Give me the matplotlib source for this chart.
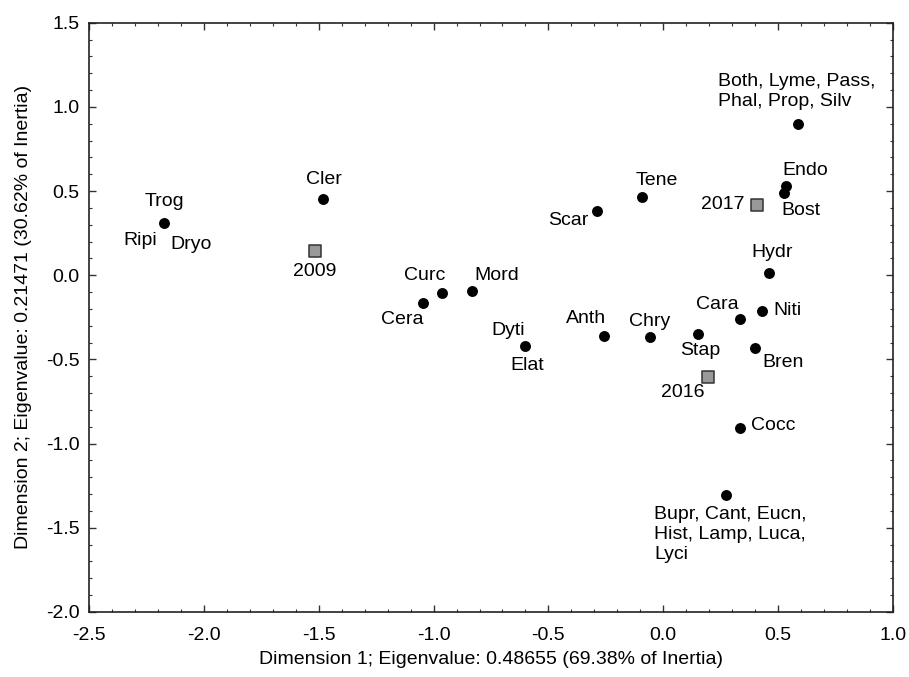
import matplotlib
matplotlib.use("Agg")
import matplotlib.pyplot as plt
from matplotlib.ticker import MultipleLocator, FormatStrFormatter

plt.rcParams['font.family'] = ['Liberation Sans', 'DejaVu Sans']

# Column points (taxa)
taxa_labels = ["Trog", "Cler", "Cera", "Curc", "Mord", "Elat", "Scar", "Tene", "Anth", "Chry",
               "Stap", "Cara", "Niti", "Bren", "Hydr", "Endo", "Bost", "Both", "Cocc", "Bupr"]
taxa_x = [-2.172, -1.483, -1.047, -0.962, -0.834, -0.602, -0.290, -0.091, -0.259, -0.059,
          0.153, 0.335, 0.431, 0.401, 0.460, 0.534, 0.527, 0.588, 0.334, 0.273]
taxa_y = [0.312, 0.451, -0.167, -0.108, -0.094, -0.421, 0.383, 0.463, -0.360, -0.364,
          -0.351, -0.262, -0.211, -0.431, 0.011, 0.530, 0.490, 0.896, -0.910, -1.305]

# Row points (years)
years = ["2009", "2016", "2017"]
years_x = [-1.516, 0.193, 0.407]
years_y = [0.145, -0.607, 0.419]

xlabel = "Dimension 1; Eigenvalue: 0.48655 (69.38% of Inertia)"
ylabel = "Dimension 2; Eigenvalue: 0.21471 (30.62% of Inertia)"

# label placements: (text, anchor-key, dx px, dy px (down positive), ha, va)
label_specs = [
    ("Trog", "Trog", 0, -21.7, "center", "center"),
    ("Ripi", "Trog", -24.3, 18, "center", "center"),
    ("Dryo", "Trog", 26.4, 21.6, "center", "center"),
    ("Cler", "Cler", 1.3, -20, "center", "center"),
    ("Curc", "Curc", -17.3, -18.3, "center", "center"),
    ("Cera", "Cera", -20.4, 16, "center", "center"),
    ("Mord", "Mord", 25, -16, "center", "center"),
    ("Dyti", "Elat", -16.7, -16, "center", "center"),
    ("Elat", "Elat", 2, 19, "center", "center"),
    ("Scar", "Scar", -28.7, 10, "center", "center"),
    ("Tene", "Tene", 14.4, -17.3, "center", "center"),
    ("Anth", "Anth", -17.7, -17.4, "center", "center"),
    ("Chry", "Chry", 0, -15, "center", "center"),
    ("Stap", "Stap", 2, 15.7, "center", "center"),
    ("Cara", "Cara", -22.6, -15.3, "center", "center"),
    ("Niti", "Niti", 11, 0, "left", "center"),
    ("Bren", "Bren", 28, 15, "center", "center"),
    ("Hydr", "Hydr", 3, -21, "center", "center"),
    ("Endo", "Endo", 19.3, -16, "center", "center"),
    ("Bost", "Bost", 16.4, 17.3, "center", "center"),
    ("Both, Lyme, Pass,\nPhal, Prop, Silv", "Both", -80.6, -32.6, "left", "center"),
    ("Cocc", "Cocc", 10.7, -3.3, "left", "center"),
    ("Bupr, Cant, Eucn,\nHist, Lamp, Luca,\nLyci", "Bupr", -72, 39.6, "left", "center"),
    ("2009", "2009", 0, 21, "center", "center"),
    ("2016", "2016", -25, 15, "center", "center"),
    ("2017", "2017", -12.4, 0, "right", "center"),
]

fig = plt.figure(figsize=(9.09, 6.77), dpi=100)
ax = fig.add_axes([89/909, 1 - 612/677, (893-89)/909, (612-22.7)/677])

ax.scatter(taxa_x, taxa_y, s=62, c="black", marker="o", zorder=3, linewidths=0)
ax.scatter(years_x, years_y, s=72, c="#999999", marker="s", edgecolors="#333333",
           linewidths=1.1, zorder=3)

pos = {n: (x, y) for n, x, y in zip(taxa_labels, taxa_x, taxa_y)}
pos.update({n: (x, y) for n, x, y in zip(years, years_x, years_y)})

pt = 72.0 / 100.0
for text, key, dx, dy, ha, va in label_specs:
    ax.annotate(text, xy=pos[key], xytext=(dx * pt, -dy * pt), textcoords="offset points",
                ha=ha, va=va, fontsize=14, color="black", linespacing=1.2,
                multialignment="left")

ax.set_xlim(-2.5, 1.0)
ax.set_ylim(-2.0, 1.5)
ax.xaxis.set_major_locator(MultipleLocator(0.5))
ax.yaxis.set_major_locator(MultipleLocator(0.5))
ax.xaxis.set_minor_locator(MultipleLocator(0.1))
ax.yaxis.set_minor_locator(MultipleLocator(0.1))
ax.xaxis.set_major_formatter(FormatStrFormatter("%.1f"))
ax.yaxis.set_major_formatter(FormatStrFormatter("%.1f"))
ax.tick_params(which="both", direction="in", top=True, right=True, labelsize=14, color="#333333")
ax.tick_params(axis="x", which="major", length=5, width=1, pad=11)
ax.tick_params(axis="y", which="major", length=5, width=1, pad=7)
ax.tick_params(which="minor", length=2.5, width=0.8)
for s in ax.spines.values():
    s.set_linewidth(1.2)
    s.set_color("#222222")

ax.set_xlabel(xlabel, fontsize=14, labelpad=5)
ax.set_ylabel(ylabel, fontsize=14, labelpad=10)

fig.savefig("out.png", dpi=100)
